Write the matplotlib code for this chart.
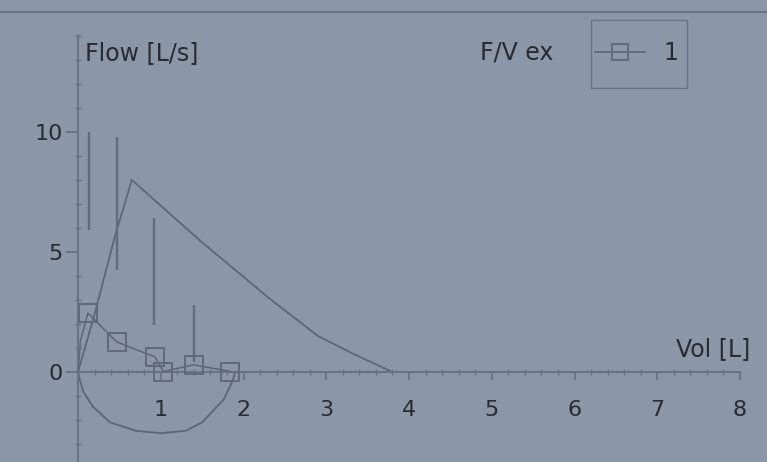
import matplotlib
matplotlib.use("Agg")
import matplotlib.pyplot as plt
from matplotlib.lines import Line2D
from matplotlib.patches import Rectangle
import numpy as np

# ─── DATA ────────────────────────────────────────────────────────────────
# predicted expiratory flow-volume curve (Vol [L], Flow [L/s])
pred_vol  = [0.0, 0.2, 0.45, 0.65, 1.5, 2.3, 2.9, 3.3, 3.8]
pred_flow = [0.0, 2.4, 5.7, 8.0, 5.4, 3.1, 1.5, 0.8, 0.0]

# predicted inspiratory loop
insp_vol  = [0.0, 0.06, 0.18, 0.39, 0.7, 1.0, 1.3, 1.5, 1.76, 1.87, 1.9]
insp_flow = [0.0, -0.8, -1.45, -2.1, -2.45, -2.55, -2.45, -2.1, -1.15, -0.35, 0.0]

# normal range bars at the reference points
range_vol = [0.13, 0.47, 0.92, 1.4]
range_lo  = [5.9, 4.25, 1.95, 0.4]
range_hi  = [10.0, 9.8, 6.4, 2.8]

# measured curve, trial 1
meas_vol  = [0.0, 0.03, 0.12, 0.47, 0.93, 1.03, 1.4, 1.84]
meas_flow = [0.0, 1.3, 2.45, 1.25, 0.63, 0.02, 0.3, 0.02]

x_ticks = [1, 2, 3, 4, 5, 6, 7, 8]
y_ticks = [0, 5, 10]

# ─── STYLE ───────────────────────────────────────────────────────────────
BG      = "#8b96a6"
INK     = "#272b33"
LINE    = "#5f6776"
FRAME   = "#6a7383"
FS      = 17

W_PX, H_PX = 767, 462
fig = plt.figure(figsize=(W_PX / 100, H_PX / 100), dpi=100, facecolor=BG)

ax = fig.add_axes([78 / W_PX, 0.0, 667 / W_PX, 427 / H_PX])
ax.set_facecolor(BG)
ax.set_xlim(0, 667 / 82.75)
ax.set_ylim(-3.75, 14.04)

ax.plot(pred_vol, pred_flow, color=LINE, lw=1.3, zorder=2)
ax.plot(insp_vol, insp_flow, color=LINE, lw=1.3, zorder=2)
ax.vlines(range_vol, range_lo, range_hi, color="#646c7b", lw=1.7, zorder=2)
ax.plot(meas_vol, meas_flow, color=LINE, lw=1.1, marker="s", markersize=12.5,
        markerfacecolor="none", markeredgecolor=LINE, markeredgewidth=1.3,
        markevery=[2, 3, 4, 5, 6, 7], zorder=3)

# axes crossing at the origin
for side in ("top", "right"):
    ax.spines[side].set_visible(False)
ax.spines["bottom"].set_position(("data", 0))
ax.spines["bottom"].set_bounds(0, 8)
for side in ("left", "bottom"):
    ax.spines[side].set_color(FRAME)
    ax.spines[side].set_linewidth(1.5)

ax.set_xticks(x_ticks)
ax.set_yticks(y_ticks)
ax.set_xticks(np.arange(0, 8.01, 0.2), minor=True)
ax.set_yticks(np.arange(-3, 14.01, 1), minor=True)
ax.tick_params(axis="x", which="major", direction="out", length=6, width=1.3,
               color=FRAME, labelcolor=INK, labelsize=16, pad=14)
ax.tick_params(axis="y", which="major", direction="out", length=9, width=1.3,
               color=FRAME, labelcolor=INK, labelsize=16, pad=2)
ax.tick_params(which="minor", direction="inout", length=4, width=1.0, color=FRAME)

ax.text(0.08, 13.3, "Flow [L/s]", fontsize=FS, color=INK, ha="left", va="center")
ax.text(8.12, 0.45, "Vol [L]", fontsize=FS, color=INK, ha="right", va="bottom",
        clip_on=False)

# legend block: title to the left, framed entry box on the right
fig.text(480 / W_PX, 1 - 52 / H_PX, "F/V ex", fontsize=FS, color=INK,
         ha="left", va="center")
fig.add_artist(Rectangle((591 / W_PX, 1 - 88 / H_PX), 96 / W_PX, 68 / H_PX,
                         transform=fig.transFigure, facecolor="none",
                         edgecolor=FRAME, lw=1.0))
handle = Line2D([0], [0], color=LINE, lw=1.2, marker="s", markersize=11,
                markerfacecolor="none", markeredgecolor=LINE, markeredgewidth=1.3)
leg = fig.legend([handle], ["1"], loc="center",
                 bbox_to_anchor=(637 / W_PX, 1 - 53 / H_PX), fontsize=FS,
                 frameon=False, handlelength=2.1, borderpad=0, borderaxespad=0,
                 handletextpad=0.8, labelcolor=INK)

# panel border along the top
fig.add_artist(Line2D([0, 1], [1 - 12 / H_PX, 1 - 12 / H_PX],
                      transform=fig.transFigure, color=FRAME, lw=1.5))

fig.savefig("out.png", dpi=100, facecolor=BG)
